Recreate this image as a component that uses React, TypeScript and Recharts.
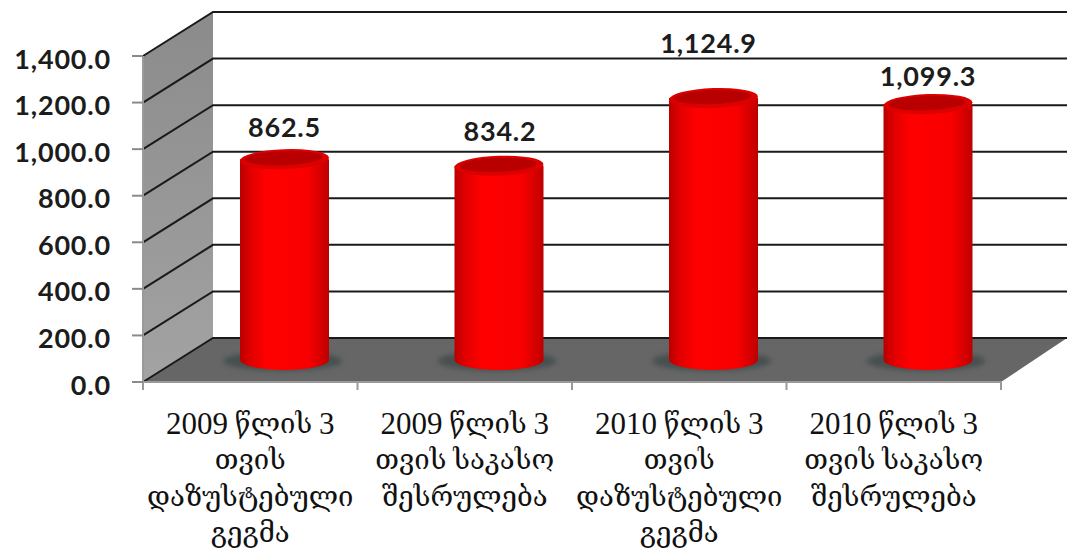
import { Bar, BarChart, Customized, LabelList, XAxis, YAxis } from "recharts"

const CATEGORIES = [
  "2009 წლის 3\nთვის\nდაზუსტებული\nგეგმა",
  "2009 წლის 3\nთვის საკასო\nშესრულება",
  "2010 წლის 3\nთვის\nდაზუსტებული\nგეგმა",
  "2010 წლის 3\nთვის საკასო\nშესრულება",
]
const VALUES = [862.5, 834.2, 1124.9, 1099.3]
const Y_TICKS = [0, 200, 400, 600, 800, 1000, 1200, 1400]

const data = CATEGORIES.map((name, i) => ({ name, value: VALUES[i] }))

// plot box of the front plane, and how far the back wall sits behind it
const LEFT = 143
const RIGHT = 1001
const TOP = 56
const BOTTOM = 382
const DEPTH_X = 70
const DEPTH_Y = 44
// the bars stand half way into the depth
const BAR_DX = 34
const BAR_DY = 22
// hand placed labels, relative to the top of each bar
const LABEL_LIFT = [33, 35, 56, 29]
const LABEL_SHIFT = [0, 1, -5, 0]

const NUM_FONT = "Lato, 'Open Sans', sans-serif"
const GEO_FONT = "'Liberation Serif', 'DejaVu Serif', serif"

const fmt = (v: number) =>
  v.toLocaleString("en-US", { minimumFractionDigits: 1, maximumFractionDigits: 1 })

function Walls() {
  const yOf = (v: number) => BOTTOM - (v / 1400) * (BOTTOM - TOP)
  const step = (RIGHT - LEFT) / CATEGORIES.length
  const boundaries = [0, 1, 2, 3, 4]
  return (
    <g>
      <defs>
        <linearGradient id="sideWall" x1="0" y1="0" x2="0" y2="1">
          <stop offset="0%" stopColor="#8b8b8b" />
          <stop offset="100%" stopColor="#a3a3a3" />
        </linearGradient>
        <filter id="soft" x="-30%" y="-60%" width="160%" height="220%">
          <feGaussianBlur stdDeviation="2.5" />
        </filter>
        <linearGradient id="cylBody" x1="0" y1="0" x2="1" y2="0">
          <stop offset="0%" stopColor="#b80000" />
          <stop offset="12%" stopColor="#e00000" />
          <stop offset="30%" stopColor="#ff0000" />
          <stop offset="76%" stopColor="#f80000" />
          <stop offset="93%" stopColor="#d00000" />
          <stop offset="100%" stopColor="#bc0000" />
        </linearGradient>
      </defs>
      <polygon
        points={`${LEFT},${TOP} ${LEFT + DEPTH_X},${TOP - DEPTH_Y} ${LEFT + DEPTH_X},${BOTTOM - DEPTH_Y} ${LEFT},${BOTTOM}`}
        fill="url(#sideWall)"
      />
      <polygon
        points={`${LEFT},${BOTTOM} ${LEFT + DEPTH_X},${BOTTOM - DEPTH_Y} 1067,${BOTTOM - DEPTH_Y} ${RIGHT},${BOTTOM}`}
        fill="#666666"
      />
      {Y_TICKS.map((t) => (
        <polyline
          key={t}
          points={`${LEFT},${yOf(t)} ${LEFT + DEPTH_X},${yOf(t) - DEPTH_Y} 1067,${yOf(t) - DEPTH_Y}`}
          fill="none"
          stroke="#1a1a1a"
          strokeWidth={2}
        />
      ))}
      <line x1={LEFT} y1={BOTTOM} x2={RIGHT} y2={BOTTOM} stroke="#9a9a9a" strokeWidth={2} />
      {boundaries.map((b) => (
        <line
          key={b}
          x1={LEFT + b * step}
          y1={BOTTOM}
          x2={LEFT + b * step}
          y2={BOTTOM + 8}
          stroke="#9a9a9a"
          strokeWidth={2}
        />
      ))}
    </g>
  )
}

function Cylinder(props: any) {
  const { x, y, width, height } = props
  const left = x + BAR_DX
  const top = y - BAR_DY
  const bottom = y + height - BAR_DY
  const rx = width / 2
  const cx = left + rx
  return (
    <g>
      <ellipse cx={cx - 2} cy={bottom + 1} rx={rx + 15} ry={10} fill="#465050" filter="url(#soft)" />
      <path
        d={`M${left},${top} L${left},${bottom} A${rx},10 0 0 0 ${left + width},${bottom} L${left + width},${top} Z`}
        fill="url(#cylBody)"
      />
      <g transform={`rotate(-2 ${cx} ${top})`}>
        <ellipse cx={cx} cy={top} rx={rx} ry={10} fill="#dc0000" />
        <ellipse cx={cx - 1} cy={top - 1} rx={rx - 6} ry={7} fill="#b80000" />
      </g>
    </g>
  )
}

function ValueLabel(props: any) {
  const { x, y, width, value, index } = props
  return (
    <text
      x={x + BAR_DX + width / 2 + LABEL_SHIFT[index]}
      y={y - BAR_DY - LABEL_LIFT[index]}
      textAnchor="middle"
      dominantBaseline="central"
      fontFamily={NUM_FONT}
      fontWeight={700}
      fontSize={27}
      letterSpacing={0.8}
      fill="#1c1c1c"
    >
      {fmt(value)}
    </text>
  )
}

function CategoryTick(props: any) {
  const { x, payload } = props
  const lines = String(payload.value).split("\n")
  return (
    <g>
      {lines.map((line, i) => (
        <text
          key={i}
          x={x}
          y={423 + i * 36.3}
          textAnchor="middle"
          dominantBaseline="central"
          fontFamily={GEO_FONT}
          fontSize={27.5}
          fill="#111111"
        >
          {/* the digits run larger than the Georgian letters in the original */}
          {line.split(/(\d+)/).map((part, j) => (
            <tspan key={j} fontSize={/\d/.test(part) ? 31 : 27.5}>
              {part}
            </tspan>
          ))}
        </text>
      ))}
    </g>
  )
}

function ValueTick(props: any) {
  const { x, y, payload } = props
  return (
    <text
      x={x}
      y={y + 2}
      textAnchor="end"
      dominantBaseline="central"
      fontFamily={NUM_FONT}
      fontWeight={700}
      fontSize={27}
      letterSpacing={0.8}
      fill="#1c1c1c"
    >
      {fmt(payload.value)}
    </text>
  )
}

export default function App() {
  return (
    <div style={{ position: "absolute", left: 0, top: 0, width: 1067, height: 548, background: "#fff" }}>
      <BarChart
        width={1067}
        height={548}
        data={data}
        margin={{ top: TOP, right: 1067 - RIGHT, bottom: 0, left: 0 }}
        barSize={89}
      >
        <Customized component={<Walls />} />
        <XAxis
          dataKey="name"
          height={548 - BOTTOM}
          interval={0}
          axisLine={false}
          tickLine={false}
          tick={<CategoryTick />}
        />
        <YAxis
          width={LEFT}
          domain={[0, 1400]}
          ticks={Y_TICKS}
          axisLine={{ stroke: "#9a9a9a", strokeWidth: 2 }}
          tickLine={{ stroke: "#8a8a8a", strokeWidth: 2 }}
          tickSize={11}
          tickMargin={21}
          tick={<ValueTick />}
        />
        <Bar dataKey="value" isAnimationActive={false} shape={<Cylinder />}>
          <LabelList dataKey="value" content={<ValueLabel />} />
        </Bar>
      </BarChart>
    </div>
  )
}
